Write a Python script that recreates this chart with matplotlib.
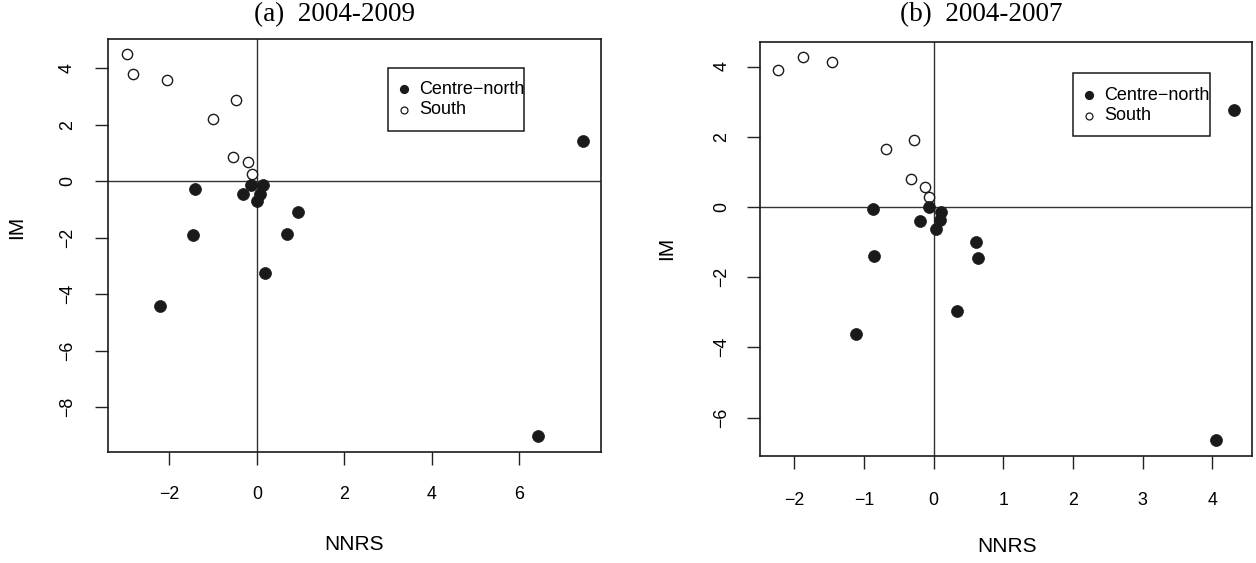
import matplotlib
matplotlib.use("Agg")
import matplotlib.pyplot as plt
from matplotlib.lines import Line2D
from matplotlib.patches import Rectangle

# ---- Panel (a): 2004-2009 ----
a_cn_x = [-1.41, -0.13, 0.14, -0.31, 0.08, 0.00, 0.95, -1.46, 0.70, 0.18, -2.22, 7.46, 6.43]
a_cn_y = [-0.28, -0.15, -0.15, -0.46, -0.46, -0.71, -1.10, -1.90, -1.86, -3.27, -4.42, 1.43, -9.04]
a_s_x = [-2.98, -2.83, -2.05, -0.48, -1.00, -0.54, -0.21, -0.12]
a_s_y = [4.50, 3.80, 3.59, 2.86, 2.21, 0.84, 0.67, 0.25]
a_xticks = [-2, 0, 2, 4, 6]
a_yticks = [-8, -6, -4, -2, 0, 2, 4]

# ---- Panel (b): 2004-2007 ----
b_cn_x = [-0.87, -0.07, 0.10, -0.19, 0.09, 0.03, 0.61, 0.64, -0.86, 0.33, -1.12, 4.31, 4.05]
b_cn_y = [-0.05, -0.01, -0.14, -0.40, -0.38, -0.62, -1.00, -1.46, -1.40, -2.97, -3.63, 2.75, -6.65]
b_s_x = [-2.23, -1.87, -1.46, -0.28, -0.69, -0.33, -0.13, -0.07]
b_s_y = [3.89, 4.27, 4.14, 1.91, 1.66, 0.79, 0.58, 0.27]
b_xticks = [-2, -1, 0, 1, 2, 3, 4]
b_yticks = [-6, -4, -2, 0, 2, 4]

titles = ["(a)  2004-2009", "(b)  2004-2007"]
legend_labels = ["Centre\u2212north", "South"]
xlabel = "NNRS"
ylabel = "IM"

W, H = 1256, 563
fig = plt.figure(figsize=(W / 100, H / 100), dpi=100)
SANS = "Liberation Sans"
SERIF = "Liberation Serif"


def fx(px):
    return px / W


def fy(py):
    return 1 - py / H


def panel(rect, cnx, cny, sx, sy, xt, yt, xpad, ypad):
    ax = fig.add_axes(rect)
    ax.axvline(0, color="#333333", lw=1.0, zorder=1)
    ax.axhline(0, color="#333333", lw=1.0, zorder=1)
    ax.plot(sx, sy, ls="none", marker="o", ms=7.4, mfc="white", mec="#1a1a1a", mew=1.0, zorder=3)
    ax.plot(cnx, cny, ls="none", marker="o", ms=8.6, mfc="#1a1a1a", mec="#1a1a1a", mew=0.5, zorder=3)
    ax.margins(0.04)
    ax.set_xticks(xt)
    ax.set_yticks(yt)
    ax.set_xticklabels([str(v).replace("-", "\u2212") for v in xt], fontfamily=SANS, fontsize=12.8)
    ax.set_yticklabels([str(v).replace("-", "\u2212") for v in yt], fontfamily=SANS, fontsize=12.8,
                       rotation=90, va="center")
    ax.tick_params(axis="x", length=9.4, width=1.0, pad=xpad, color="#222222")
    ax.tick_params(axis="y", length=9.4, width=1.0, pad=ypad, color="#222222")
    for s in ax.spines.values():
        s.set_linewidth(1.2)
        s.set_color("#1a1a1a")
    return ax


axA = panel([fx(108.3), fy(451.7), fx(601 - 108.3), (451.7 - 38.7) / H],
            a_cn_x, a_cn_y, a_s_x, a_s_y, a_xticks, a_yticks, 15.0, 14.0)
axB = panel([fx(760), fy(455.7), fx(1252.3 - 760), (455.7 - 41.7) / H],
            b_cn_x, b_cn_y, b_s_x, b_s_y, b_xticks, b_yticks, 16.5, 12.0)

# titles
fig.text(fx(334), fy(15), titles[0], family=SERIF, fontsize=19.5, ha="center", va="center")
fig.text(fx(981), fy(15), titles[1], family=SERIF, fontsize=19.5, ha="center", va="center")

# axis labels
fig.text(fx(354), fy(544), xlabel, family=SANS, fontsize=15, ha="center", va="center")
fig.text(fx(1007), fy(547), xlabel, family=SANS, fontsize=15, ha="center", va="center")
fig.text(fx(17), fy(227), ylabel, family=SANS, fontsize=15, ha="center", va="center", rotation=90)
fig.text(fx(667), fy(248), ylabel, family=SANS, fontsize=15, ha="center", va="center", rotation=90)


def legend_box(x0, y0, x1, y1, mx, tx, r1, r2):
    fig.add_artist(Rectangle((fx(x0), fy(y1)), fx(x1 - x0), (y1 - y0) / H,
                             transform=fig.transFigure, fill=False, ec="#1a1a1a", lw=1.1))
    fig.add_artist(Line2D([fx(mx)], [fy(r1)], transform=fig.transFigure, ls="none", marker="o",
                          ms=5.6, mfc="#1a1a1a", mec="#1a1a1a"))
    fig.add_artist(Line2D([fx(mx)], [fy(r2)], transform=fig.transFigure, ls="none", marker="o",
                          ms=5.0, mfc="white", mec="#1a1a1a", mew=0.9))
    fig.text(fx(tx), fy(r1), legend_labels[0], family=SANS, fontsize=13, ha="left", va="center")
    fig.text(fx(tx), fy(r2), legend_labels[1], family=SANS, fontsize=13, ha="left", va="center")


legend_box(388.3, 68.3, 524.3, 131, 404, 419, 89.3, 110)
legend_box(1073, 72.7, 1209.7, 136, 1089, 1104, 95, 116)

fig.savefig("out.png", dpi=100, facecolor="white")
